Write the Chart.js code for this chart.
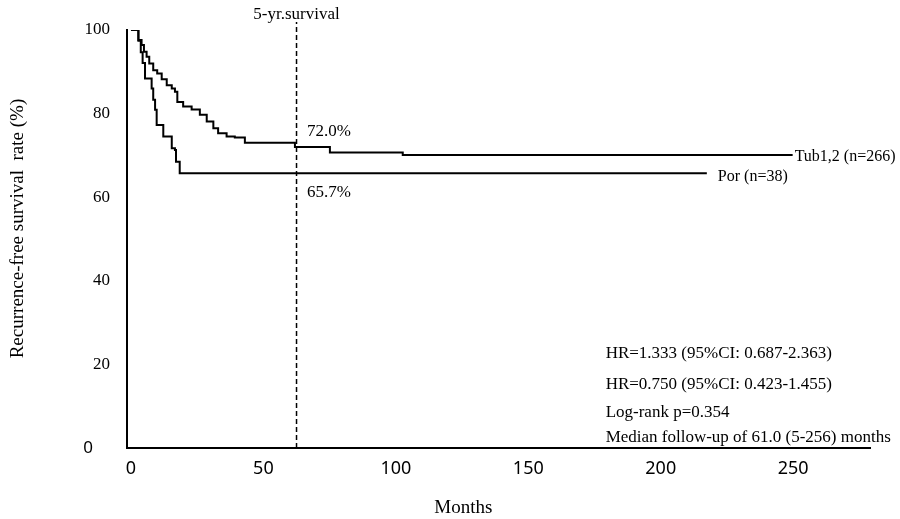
<!DOCTYPE html>
<html>
<head>
<meta charset="utf-8">
<script src="https://cdn.jsdelivr.net/npm/chart.js@4.4.1/dist/chart.umd.min.js"></script>
<style>
  html, body { margin: 0; padding: 0; background: #fff; }
  #wrap { width: 900px; height: 519px; }
</style>
</head>
<body>
<div id="wrap"><canvas id="km-chart"></canvas></div>
<script>
// Kaplan-Meier points: [month, survival %]
const tubTimes = [0, 2.8, 4.0, 4.9, 5.9, 6.9, 8.4, 9.9, 11.6, 13.5, 15.4, 16.6, 17.5, 19.7, 22.9, 26.0, 28.6, 31.1, 32.9, 36.1, 39.2, 43.0, 61.9, 75.1, 102.6, 249.8];
const tubSurv  = [100, 97.6, 96.4, 94.8, 93.6, 92.0, 90.4, 89.6, 88.2, 86.8, 86.0, 85.2, 82.8, 81.7, 81.0, 79.7, 78.1, 76.5, 75.3, 74.5, 74.3, 73.0, 72.0, 70.7, 70.1, 70.1];
const porTimes = [0, 2.8, 3.7, 4.4, 5.3, 7.8, 8.4, 9.1, 9.7, 12.2, 15.4, 16.6, 17.0, 18.4, 217.4];
const porSurv  = [100, 97.4, 94.7, 92.1, 88.4, 86.0, 83.3, 80.9, 77.3, 74.5, 71.7, 71.3, 68.5, 65.7, 65.7];

const fiveYearMonth = 62.5;
const xTicks = [0, 50, 100, 150, 200, 250];
const yTicks = [0, 20, 40, 60, 80, 100];

const seriesLabels = ['Tub1,2 (n=266)', 'Por (n=38)'];
const survivalAt5yr = ['72.0%', '65.7%'];
const statLines = [
    'HR=1.333 (95%CI: 0.687-2.363)',
    'HR=0.750 (95%CI: 0.423-1.455)',
    'Log-rank p=0.354',
    'Median follow-up of 61.0 (5-256) months'
];
const xTitle = 'Months';
const yTitle = 'Recurrence-free survival  rate (%)';

const serif = '"Liberation Serif", "Times New Roman", serif';

function toPoints(xs, ys) {
    return xs.map((x, i) => ({ x: x, y: ys[i] }));
}

// text placed in data units so it follows the scales
const annotationPlugin = {
    id: 'kmText',
    afterDatasetsDraw(chart) {
        const ctx = chart.ctx;
        const xs = chart.scales.x;
        const ys = chart.scales.y;
        ctx.save();
        ctx.fillStyle = '#000';
        ctx.textBaseline = 'middle';

        ctx.font = '17px ' + serif;
        ctx.textAlign = 'center';
        ctx.fillText('5-yr.survival', xs.getPixelForValue(fiveYearMonth), ys.getPixelForValue(103.6));

        ctx.textAlign = 'left';
        ctx.fillText(survivalAt5yr[0], xs.getPixelForValue(fiveYearMonth + 4), ys.getPixelForValue(75.6));
        ctx.fillText(survivalAt5yr[1], xs.getPixelForValue(fiveYearMonth + 4), ys.getPixelForValue(61.2));

        ctx.font = '16px ' + serif;
        ctx.fillText(seriesLabels[0], xs.getPixelForValue(tubTimes[tubTimes.length - 1]) + 2, ys.getPixelForValue(69.6));
        ctx.fillText(seriesLabels[1], xs.getPixelForValue(porTimes[porTimes.length - 1]) + 11, ys.getPixelForValue(65.0));

        ctx.font = '17px ' + serif;
        const statY = [22.5, 15.1, 8.4, 2.6];
        statLines.forEach((t, i) => {
            ctx.fillText(t, xs.getPixelForValue(179.2), ys.getPixelForValue(statY[i]));
        });

        // axis titles
        ctx.font = '19px ' + serif;
        ctx.textAlign = 'center';
        ctx.fillText(xTitle, xs.getPixelForValue(125.5), chart.height - 11);
        ctx.translate(18, ys.getPixelForValue(52.5));
        ctx.rotate(-Math.PI / 2);
        ctx.fillText(yTitle, 0, 0);
        ctx.restore();
    }
};

new Chart(document.getElementById('km-chart').getContext('2d'), {
    type: 'line',
    data: {
        datasets: [
            {
                label: seriesLabels[0],
                data: toPoints(tubTimes, tubSurv),
                borderColor: '#000',
                borderWidth: 2,
                stepped: 'before',
                pointRadius: 0
            },
            {
                label: seriesLabels[1],
                data: toPoints(porTimes, porSurv),
                borderColor: '#000',
                borderWidth: 2,
                stepped: 'before',
                pointRadius: 0
            },
            {
                label: '5-yr.survival',
                data: [{ x: fiveYearMonth, y: 0 }, { x: fiveYearMonth, y: 101.9 }],
                borderColor: '#000',
                borderWidth: 1.5,
                borderDash: [5, 3],
                pointRadius: 0,
                clip: false
            }
        ]
    },
    options: {
        responsive: true,
        maintainAspectRatio: false,
        animation: false,
        layout: { padding: { top: 30, right: 30, left: 0, bottom: 0 } },
        plugins: {
            legend: { display: false },
            tooltip: { enabled: false }
        },
        scales: {
            x: {
                type: 'linear',
                min: -1.5,
                max: 279,
                afterBuildTicks: s => { s.ticks = xTicks.map(v => ({ value: v })); },
                afterFit: s => { s.height = 71; },
                grid: { display: false, drawTicks: false },
                border: { display: true, color: '#000', width: 2 },
                ticks: {
                    color: '#000',
                    padding: 10,
                    maxRotation: 0,
                    font: { family: '"Noto Sans", sans-serif', size: 18 }
                }
            },
            y: {
                min: 0,
                max: 100,
                afterBuildTicks: s => { s.ticks = yTicks.map(v => ({ value: v })); },
                afterFit: s => { s.width = 127; },
                grid: { display: false, drawTicks: false },
                border: { display: true, color: '#000', width: 2 },
                ticks: {
                    color: '#000',
                    padding: 17,
                    callback: v => (v === 0 ? '0\u2003' : String(v)),
                    font: ctx => (ctx.tick && ctx.tick.value === 0)
                        ? { family: '"Noto Sans", sans-serif', size: 17 }
                        : { family: serif, size: 17 }
                }
            }
        }
    },
    plugins: [annotationPlugin]
});
</script>
</body>
</html>
